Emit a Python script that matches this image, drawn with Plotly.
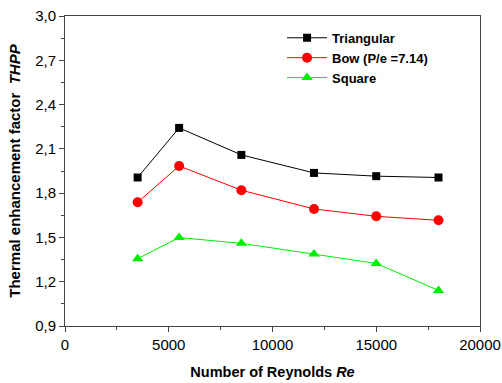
import plotly.graph_objects as go

reynolds = [3500, 5500, 8500, 12000, 15000, 18000]
triangular = [1.906, 2.242, 2.059, 1.937, 1.915, 1.906]
bow = [1.738, 1.984, 1.820, 1.693, 1.643, 1.616]
square = [1.356, 1.499, 1.460, 1.387, 1.324, 1.141]

names = ["<b>Triangular</b>", "<b>Bow (P/e =7.14)</b>", "<b>Square</b>"]
colors = ["#000000", "#ff0000", "#00ee00"]
symbols = ["square", "circle", "triangle-up"]
sizes = [8, 10, 10]

fig = go.Figure()
for ys, n, c, s, sz in zip([triangular, bow, square], names, colors, symbols, sizes):
    fig.add_trace(go.Scatter(
        x=reynolds, y=ys, name=n, mode="lines+markers",
        line=dict(color=c, width=1),
        marker=dict(symbol=s, size=sz, color=c),
    ))

axis_common = dict(
    showline=True, linecolor="#444444", linewidth=1, mirror=True,
    showgrid=False, zeroline=False, ticks="outside", ticklen=5,
    tickcolor="#444444", automargin=False,
    tickfont=dict(family="Liberation Sans, Arial", size=15, color="#000000"),
)

fig.update_layout(
    width=502, height=383,
    margin=dict(l=65, r=22, t=16, b=57),
    plot_bgcolor="white", paper_bgcolor="white",
    separators=", ",
    font=dict(family="Liberation Sans, Arial", color="#000000"),
    showlegend=True,
    legend=dict(
        x=0.523, y=0.978, xanchor="left", yanchor="top",
        bgcolor="rgba(0,0,0,0)",
        font=dict(family="Liberation Sans, Arial", size=13, color="#000000"),
        tracegroupgap=0, itemwidth=40,
    ),
    xaxis=dict(
        range=[0, 20000], tickvals=[0, 5000, 10000, 15000, 20000],
        ticktext=["0", "5000", "10000", "15000", "20000"],
        minor=dict(ticks="outside", ticklen=3, dtick=2500, tickcolor="#444444"),
        title=dict(text="<b>Number of Reynolds <i>Re</i></b>",
                   font=dict(size=14.5), standoff=14),
        **axis_common,
    ),
    yaxis=dict(
        range=[0.9, 3.0], dtick=0.3, tick0=0.9, tickformat=".1f",
        minor=dict(ticks="outside", ticklen=3, dtick=0.15, tickcolor="#444444"),
        title=dict(text="<b>Thermal enhancement factor  <i>THPP</i></b>",
                   font=dict(size=15), standoff=10),
        **axis_common,
    ),
)

fig.write_html("out.html")
